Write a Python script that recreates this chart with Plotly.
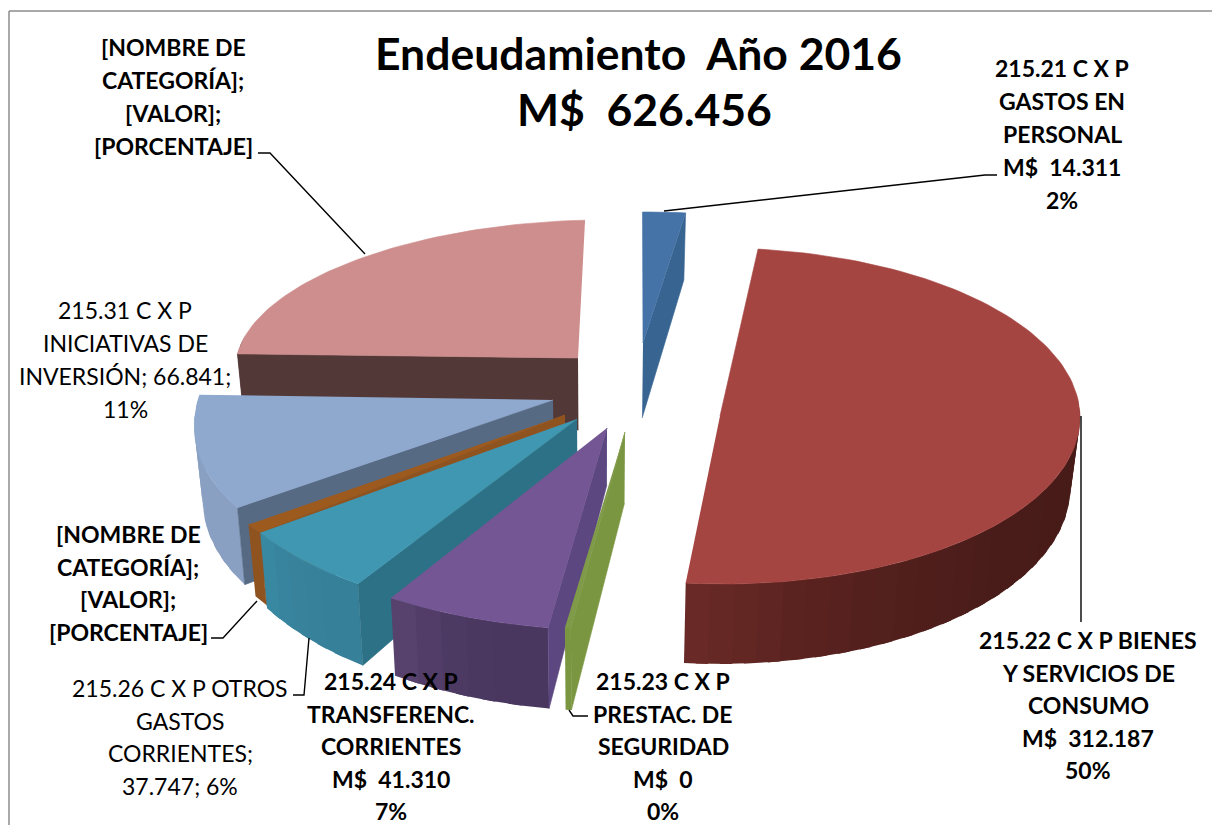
import math
import plotly.graph_objects as go

# ---- data ----
categories = ["215.21 C X P GASTOS EN PERSONAL", "215.22 C X P BIENES Y SERVICIOS DE CONSUMO",
              "215.23 C X P PRESTAC. DE SEGURIDAD", "215.24 C X P TRANSFERENC. CORRIENTES",
              "215.26 C X P OTROS GASTOS CORRIENTES", "[NOMBRE DE CATEGORIA] naranja",
              "215.31 C X P INICIATIVAS DE INVERSION", "[NOMBRE DE CATEGORIA] rosa"]
values = [14311, 312187, 1500, 41310, 37747, 4560, 66841, 148000]

title_lines = ["Endeudamiento  Año 2016", "M$  626.456"]
label_lines = [
    ["215.21 C X P", "GASTOS EN", "PERSONAL", "M$  14.311", "2%"],
    ["215.22 C X P BIENES", "Y SERVICIOS DE", "CONSUMO", "M$  312.187", "50%"],
    ["215.23 C X P", "PRESTAC. DE", "SEGURIDAD", "M$  0", "0%"],
    ["215.24 C X P", "TRANSFERENC.", "CORRIENTES", "M$  41.310", "7%"],
    ["215.26 C X P OTROS", "GASTOS", "CORRIENTES;", "37.747; 6%"],
    ["[NOMBRE DE", "CATEGORÍA];", "[VALOR];", "[PORCENTAJE]"],
    ["215.31 C X P", "INICIATIVAS DE", "INVERSIÓN; 66.841;", "11%"],
    ["[NOMBRE DE", "CATEGORÍA];", "[VALOR];", "[PORCENTAJE]"],
]

# ---- styling / geometry (pixels of the 1212x825 page) ----
FONT = "Lato"
START = -92.0
# centre, U, V vectors of each projected disc, depth (apex, front gain)
geom = [
    dict(c=(643, 343), u=(301, 1), v=(-10, 131), a=75, b=8),
    dict(c=(720, 416), u=(360, 1), v=(1, 168), a=70, b=10),
    dict(c=(625, 432), u=(400, 0), v=(-15, 197), a=71, b=11),
    dict(c=(607, 428), u=(407, 9), v=(-13, 202), a=57, b=24),
    dict(c=(577, 419), u=(375, 9), v=(-35, 196), a=60, b=25),
    dict(c=(565, 415), u=(395, 15), v=(9, 210), a=60, b=20),
    dict(c=(553, 400), u=(356, -4), v=(-44, 180), a=70, b=12),
    dict(c=(578, 358), u=(342, -3), v=(-19, 138), a=72, b=0),
]
top_col = ["#4573A8", "#A54542", "#7F9A48", "#735693", "#3F97B2", "#9C5A1F", "#8FA8CE", "#CE8E8D"]
radial_col = ["#386492", "#4C1D1A", "#7A9640", "#5C4780", "#2D7186", "#8F5320", "#566A84", "#533838"]
wall_from = ["#386492", "#471B18", "#7A9640", "#4A3760", "#37809A", "#8F5320", "#8AA0C2", "#533838"]
wall_to = ["#386492", "#6B2A27", "#7A9640", "#5A4570", "#3A8AA3", "#8F5320", "#8AA0C2", "#533838"]
draw_order = [0, 1, 7, 6, 5, 4, 3, 2]
# which cut face of each slice shows: 1 = its starting edge, 2 = its closing edge, 0 = none
cut_face = [2, 0, 1, 1, 1, 1, 1, 1]

label_pos = [  # centre x, first line y, line step
    (1062, 68, 33), (1088, 640, 32.5), (663, 681, 32.5), (391, 681, 32.5),
    (180, 688, 32.5), (128, 534, 32.5), (125, 310, 33), (173, 47, 33),
]
label_bold = [True, True, True, True, False, True, False, True]
BOLD_SIZE = 23
PLAIN_SIZE = 23
TITLE_SIZE = 44.5
title_pos = [(638, 52), (644, 108)]

leaders = [
    ([664, 985, 997], [211, 175, 175]),
    ([1081, 1081], [416, 622]),
    ([569, 573, 588], [710, 716, 716]),
    ([309, 304, 293], [638, 695, 695]),
    ([257, 223, 211], [601, 638, 638]),
    ([258, 270, 365], [153, 153, 254]),
]

# ---- slice angles come from the values ----
total = sum(values)
edges = [START]
for val in values:
    edges.append(edges[-1] + val / total * 360.0)


def top_pt(g, deg, r=1.0):
    t = math.radians(deg)
    return (g["c"][0] + r * (g["u"][0] * math.cos(t) + g["v"][0] * math.sin(t)),
            g["c"][1] + r * (g["u"][1] * math.cos(t) + g["v"][1] * math.sin(t)))


def low_pt(g, deg, r=1.0):
    x, y = top_pt(g, deg, r)
    d = g["a"] + g["b"] * r * math.sin(math.radians(deg))
    return (x + 0.02 * (600 - x), y + d)


def lerp(c0, c1, f):
    a = [int(c0[i:i + 2], 16) for i in (1, 3, 5)]
    b = [int(c1[i:i + 2], 16) for i in (1, 3, 5)]
    return "rgb(%d,%d,%d)" % tuple(round(p + (q - p) * f) for p, q in zip(a, b))


fig = go.Figure()


def poly(pts, color, name, width=0.6):
    fig.add_trace(go.Scatter(
        x=[p[0] for p in pts], y=[p[1] for p in pts], mode="lines", fill="toself",
        fillcolor=color, line=dict(color=color, width=width), name=name,
        hoverinfo="name", showlegend=False))


for i in draw_order:
    g = geom[i]
    t1, t2 = edges[i], edges[i + 1]
    # outer rim wall, in overlapping strips so the shade can drift along it
    lo, hi = max(t1, -6.0), min(t2, 190.0)
    if hi > lo:
        n = max(1, math.ceil((hi - lo) / 4.0))
        for k in range(n):
            a0 = lo + (hi - lo) * k / n
            a1 = min(hi, lo + (hi - lo) * (k + 1) / n + 2.0)
            poly([top_pt(g, a0 + (a1 - a0) * s / 4) for s in range(5)] +
                 [low_pt(g, a1 - (a1 - a0) * s / 4) for s in range(5)],
                 lerp(wall_from[i], wall_to[i], ((k + 0.5) / n) ** 3), categories[i], 0)
    # cut face towards the viewer
    if cut_face[i]:
        te = t1 if cut_face[i] == 1 else t2
        poly([top_pt(g, te, 0), top_pt(g, te), low_pt(g, te), low_pt(g, te, 0)],
             radial_col[i], categories[i])
    # top face
    n = max(2, math.ceil((t2 - t1) / 1.5))
    arc = [top_pt(g, t1 + (t2 - t1) * k / n) for k in range(n + 1)]
    poly([top_pt(g, t1, 0)] + arc, top_col[i], categories[i])

for xs, ys in leaders:
    fig.add_trace(go.Scatter(x=xs, y=ys, mode="lines", line=dict(color="#000000", width=1.4),
                             hoverinfo="skip", showlegend=False))

annotations = []


def put(text, x, y, size, bold):
    annotations.append(dict(
        text="<b>%s</b>" % text if bold else text, x=x, y=y, xref="x", yref="y",
        xanchor="center", yanchor="middle", showarrow=False,
        font=dict(family=FONT, size=size, color="#000000")))


for line, (tx, ty) in zip(title_lines, title_pos):
    put(line, tx, ty, TITLE_SIZE, True)
for lines, (cx, y0, step), bold in zip(label_lines, label_pos, label_bold):
    for j, line in enumerate(lines):
        put(line, cx, y0 + step * j, BOLD_SIZE if bold else PLAIN_SIZE, bold)

# chart-area frame: only its left and top edges fall inside the page
frame = [dict(type="line", x0=9, x1=9, y0=11, y1=825),
         dict(type="line", x0=9, x1=1212, y0=11, y1=11)]
for s in frame:
    s.update(xref="x", yref="y", line=dict(color="#8C8C8C", width=1.5), layer="below")

fig.update_layout(
    width=1212, height=825, margin=dict(l=0, r=0, t=0, b=0),
    paper_bgcolor="#FFFFFF", plot_bgcolor="#FFFFFF",
    xaxis=dict(range=[0, 1212], visible=False, fixedrange=True),
    yaxis=dict(range=[825, 0], visible=False, fixedrange=True),
    annotations=annotations, shapes=frame, showlegend=False,
)
fig.write_html("out.html", config={"displayModeBar": False},
               post_script="document.body.style.margin='0';document.documentElement.style.overflow='hidden';")
